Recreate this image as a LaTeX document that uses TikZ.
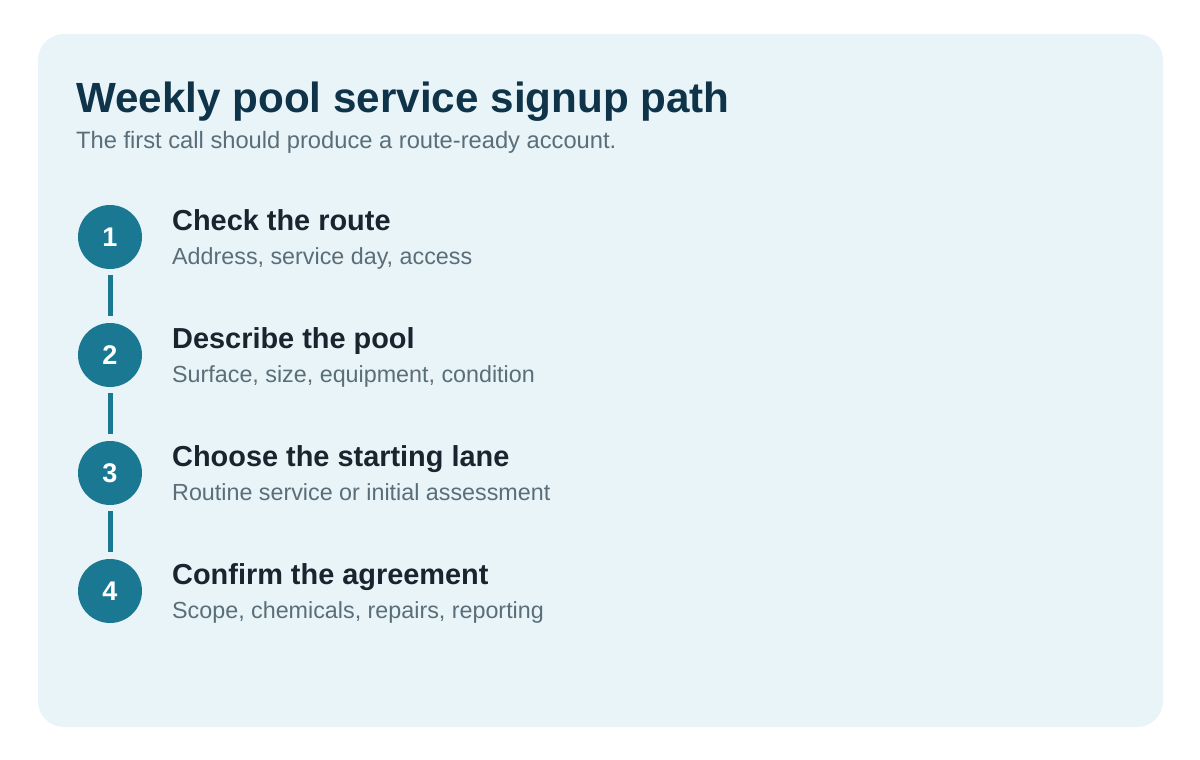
\documentclass[tikz,border=0pt]{standalone}
\usepackage{fontspec}
\setmainfont{Liberation Sans}
\definecolor{cardbg}{RGB}{232,244,247}
\definecolor{titlec}{RGB}{15,52,74}
\definecolor{subc}{RGB}{90,110,122}
\definecolor{steptc}{RGB}{24,36,46}
\definecolor{circc}{RGB}{27,120,147}
\begin{document}
\begin{tikzpicture}[x=1pt,y=-1pt,
  maintitle/.style={anchor=base west,inner sep=0pt,text=titlec,font=\fontsize{42.2}{50}\selectfont\bfseries},
  subtitle/.style={anchor=base west,inner sep=0pt,text=subc,font=\fontsize{23.7}{28}\selectfont},
  stephead/.style={anchor=base west,inner sep=0pt,text=steptc,font=\fontsize{28.9}{34}\selectfont\bfseries},
  stepdesc/.style={anchor=base west,inner sep=0pt,text=subc,font=\fontsize{23.3}{28}\selectfont},
  stepnum/.style={circle,fill=circc,minimum size=64pt,inner sep=0pt,text=white,font=\fontsize{27}{32}\selectfont\bfseries},
  link/.style={draw=circc,line width=5pt}]
\useasboundingbox (0,0) rectangle (1200,760);
\fill[cardbg,rounded corners=26pt] (38,34) rectangle (1163,727);
\node[maintitle] (title) at (76,112) {Weekly pool service signup path};
\node[subtitle] (sub) at (76,148) {The first call should produce a route-ready account.};
\foreach \i/\h/\d in {1/Check the route/{Address, service day, access},
                      2/Describe the pool/{Surface, size, equipment, condition},
                      3/Choose the starting lane/{Routine service or initial assessment},
                      4/Confirm the agreement/{Scope, chemicals, repairs, reporting}}{
  \pgfmathsetmacro{\yy}{237+118*(\i-1)}
  \node[stepnum] (c\i) at (110,\yy) {\i};
  \node[stephead] (h\i) at (172,\yy-7) {\h};
  \node[stepdesc] (d\i) at (172,\yy+27) {\d};
}
\foreach \a/\b in {1/2,2/3,3/4}{
  \draw[link] ([yshift=-6pt]c\a.south) -- ([yshift=7pt]c\b.north);
}
\end{tikzpicture}
\end{document}
